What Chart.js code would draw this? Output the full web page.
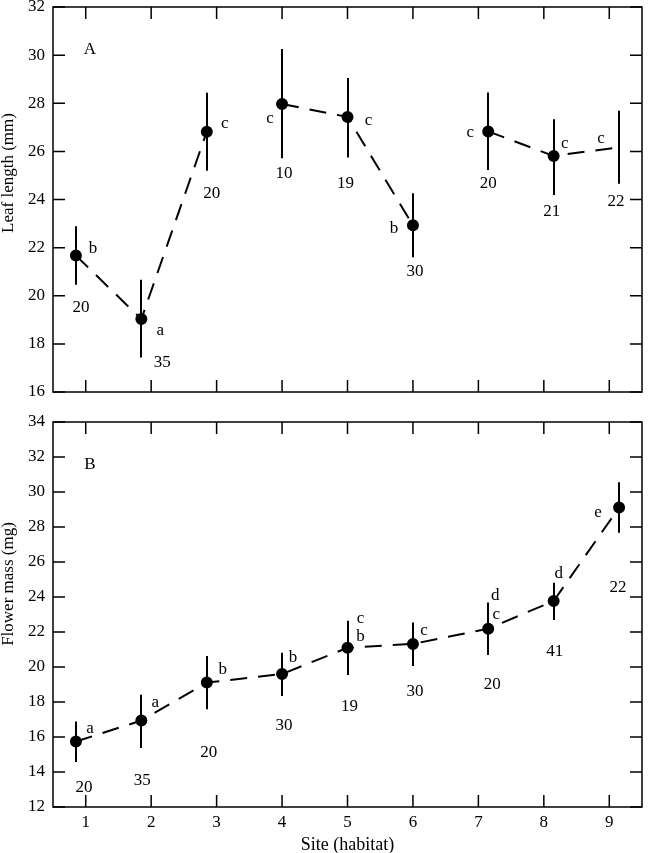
<!DOCTYPE html>
<html>
<head>
<meta charset="utf-8">
<script src="https://cdn.jsdelivr.net/npm/chart.js@4/dist/chart.umd.min.js"></script>
<style>
  body { margin: 0; background: #fff; }
  #wrap { position: relative; width: 649px; height: 853px; }
  canvas { position: absolute; left: 0; }
</style>
</head>
<body>
<div id="wrap">
  <canvas id="chartA" width="649" height="400" style="top:0"></canvas>
  <canvas id="chartB" width="649" height="453" style="top:400px"></canvas>
</div>
<script>
// sites (x tick labels) and where each site's mean is drawn (nudged off the integers)
const sites = [1, 2, 3, 4, 5, 6, 7, 8, 9];
const siteX = [0.85, 1.85, 2.85, 4, 5, 6, 7.15, 8.15, 9.15];

// panel A - leaf length (mm)
const leafMean = [21.67, 19.03, 26.82, 27.97, 27.43, 22.93, 26.83, 25.81, 26.17];
const leafLow = [20.46, 17.43, 25.2, 25.71, 25.75, 21.6, 25.23, 24.19, 24.65];
const leafHigh = [22.89, 20.66, 28.44, 30.25, 29.05, 24.26, 28.45, 27.34, 27.69];
const leafLetters = ['b', 'a', 'c', 'c', 'c', 'b', 'c', 'c', 'c'];
const leafN = [20, 35, 20, 10, 19, 30, 20, 21, 22];
const leafGroup = [1, 1, 1, 2, 2, 2, 3, 3, 3]; // line only joins sites of the same group
const leafYTicks = [16, 18, 20, 22, 24, 26, 28, 30, 32];

// panel B - flower mass (mg)
const massMean = [15.74, 16.94, 19.11, 19.6, 21.1, 21.32, 22.19, 23.77, 29.11];
const massLow = [14.57, 15.37, 17.59, 18.35, 19.55, 20.06, 20.69, 22.68, 27.67];
const massHigh = [16.88, 18.41, 20.63, 20.82, 22.64, 22.55, 23.69, 24.81, 30.56];
const massLetters = ['a', 'a', 'b', 'b', 'bc', 'c', 'cd', 'd', 'e'];
const massN = [20, 35, 20, 30, 19, 30, 20, 41, 22];
const massGroup = [1, 1, 1, 1, 1, 1, 1, 1, 1];
const massYTicks = [12, 14, 16, 18, 20, 22, 24, 26, 28, 30, 32, 34];

// label placement, in pixels from the point (one pair per letter)
const leafLetterOff = [[[17, -7]], [[19, 11]], [[18, -8]], [[-12, 15]], [[21, 4]], [[-19, 3]], [[-18, 1]], [[11, -12]], [[-18, -9]]];
const leafNOff = [[5, 52], [21, 43], [5, 62], [2, 70], [-2, 67], [2, 46], [0, 52], [-2, 56], [-3, 54]];
const massLetterOff = [[[14, -13]], [[14, -18]], [[16, -13]], [[11, -16]], [[13, -11], [13, -29]], [[11, -13]], [[8, -14], [7, -33]], [[5, -27]], [[-21, 5]]];
const massNOff = [[8, 46], [1, 60], [2, 70], [2, 52], [2, 59], [2, 48], [4, 56], [1, 51], [-1, 80]];

const FONT = "'Liberation Serif', 'Times New Roman', serif";
Chart.defaults.font.family = FONT;
Chart.defaults.font.size = 17;
Chart.defaults.color = '#000';

// draws frame, inward ticks, error bars, letters, n's and the y title
function panelPlugin(p) {
  return {
    id: 'panel',
    beforeDatasetsDraw(chart) {
      const ctx = chart.ctx;
      const xs = chart.scales.x, ys = chart.scales.y;
      ctx.save();
      ctx.strokeStyle = '#000';
      ctx.lineWidth = 2;
      siteX.forEach((x, i) => {
        const px = Math.round(xs.getPixelForValue(x));
        ctx.beginPath();
        ctx.moveTo(px, ys.getPixelForValue(p.high[i]));
        ctx.lineTo(px, ys.getPixelForValue(p.low[i]));
        ctx.stroke();
      });
      ctx.restore();
    },
    afterDraw(chart) {
      const ctx = chart.ctx;
      const a = chart.chartArea;
      const xs = chart.scales.x, ys = chart.scales.y;
      const tl = 12;
      ctx.save();
      ctx.strokeStyle = '#000';
      ctx.lineWidth = 1.5;
      ctx.strokeRect(a.left, a.top, a.right - a.left, a.bottom - a.top);
      ctx.beginPath();
      sites.forEach(s => {
        const px = xs.getPixelForValue(s);
        ctx.moveTo(px, a.top); ctx.lineTo(px, a.top + tl);
        ctx.moveTo(px, a.bottom); ctx.lineTo(px, a.bottom - tl);
      });
      p.yTicks.forEach(v => {
        const py = ys.getPixelForValue(v);
        ctx.moveTo(a.left, py); ctx.lineTo(a.left + tl, py);
        ctx.moveTo(a.right, py); ctx.lineTo(a.right - tl, py);
      });
      ctx.stroke();

      ctx.fillStyle = '#000';
      ctx.font = '17px ' + FONT;
      ctx.textAlign = 'center';
      ctx.textBaseline = 'middle';
      siteX.forEach((x, i) => {
        const px = xs.getPixelForValue(x);
        const py = ys.getPixelForValue(p.mean[i]);
        p.letters[i].split('').forEach((ch, k) => {
          const o = p.letterOff[i][k];
          ctx.fillText(ch, px + o[0], py + o[1]);
        });
        ctx.fillText(String(p.n[i]), px + p.nOff[i][0], py + p.nOff[i][1]);
      });
      // panel letter
      ctx.fillText(p.tag, a.left + 37, a.top + 43);
      // y axis title
      ctx.translate(9, p.titleY);
      ctx.rotate(-Math.PI / 2);
      ctx.fillText(p.title, 0, 0);
      ctx.restore();
    }
  };
}

function makePanel(id, p) {
  const pts = siteX.map((x, i) => ({ x: x, y: p.mean[i] }));
  return new Chart(document.getElementById(id), {
    type: 'line',
    data: {
      datasets: [{
        data: pts,
        borderColor: '#000',
        borderWidth: 2,
        borderDash: [17, 11],
        tension: 0,
        pointBackgroundColor: '#000',
        pointBorderColor: '#000',
        pointRadius: p.dotRadius,
        segment: {
          borderColor: c => p.group[c.p0DataIndex] === p.group[c.p1DataIndex] ? '#000' : 'rgba(0,0,0,0)'
        }
      }]
    },
    options: {
      responsive: false,
      animation: false,
      devicePixelRatio: 1,
      layout: { padding: p.padding },
      plugins: { legend: { display: false }, tooltip: { enabled: false } },
      scales: {
        x: {
          type: 'linear',
          min: 0.5,
          max: 9.5,
          grid: { display: false, tickLength: 0 },
          border: { display: false },
          afterBuildTicks: s => { s.ticks = sites.map(v => ({ value: v })); },
          ticks: { display: p.showX, padding: 5, autoSkip: false, maxRotation: 0 },
          title: {
            display: p.showX, text: 'Site (habitat)',
            font: { size: 18, lineHeight: 1 }, padding: { top: 0, bottom: -1 }
          },
          afterFit: s => { s.height = p.showX ? 46 : 0; s.paddingLeft = 0; s.paddingRight = 0; }
        },
        y: {
          min: p.yTicks[0],
          max: p.yTicks[p.yTicks.length - 1],
          grid: { display: false, tickLength: 0 },
          border: { display: false },
          afterBuildTicks: s => { s.ticks = p.yTicks.map(v => ({ value: v })); },
          ticks: { padding: 8 },
          afterFit: s => { s.width = 53; s.paddingTop = 0; s.paddingBottom = 0; }
        }
      }
    },
    plugins: [panelPlugin(p)]
  });
}

makePanel('chartA', {
  mean: leafMean, low: leafLow, high: leafHigh, letters: leafLetters, n: leafN,
  group: leafGroup, yTicks: leafYTicks, letterOff: leafLetterOff, nOff: leafNOff,
  tag: 'A', title: 'Leaf length (mm)', titleY: 173, showX: false,
  dotRadius: c => c.dataIndex === 8 ? 0 : 5, // site 9 has no mean marker in panel A
  padding: { top: 6, bottom: 8, left: 0, right: 2 }
});

makePanel('chartB', {
  mean: massMean, low: massLow, high: massHigh, letters: massLetters, n: massN,
  group: massGroup, yTicks: massYTicks, letterOff: massLetterOff, nOff: massNOff,
  tag: 'B', title: 'Flower mass (mg)', titleY: 184, showX: true,
  dotRadius: 5,
  padding: { top: 22, bottom: 0, left: 0, right: 2 }
});
</script>
</body>
</html>
